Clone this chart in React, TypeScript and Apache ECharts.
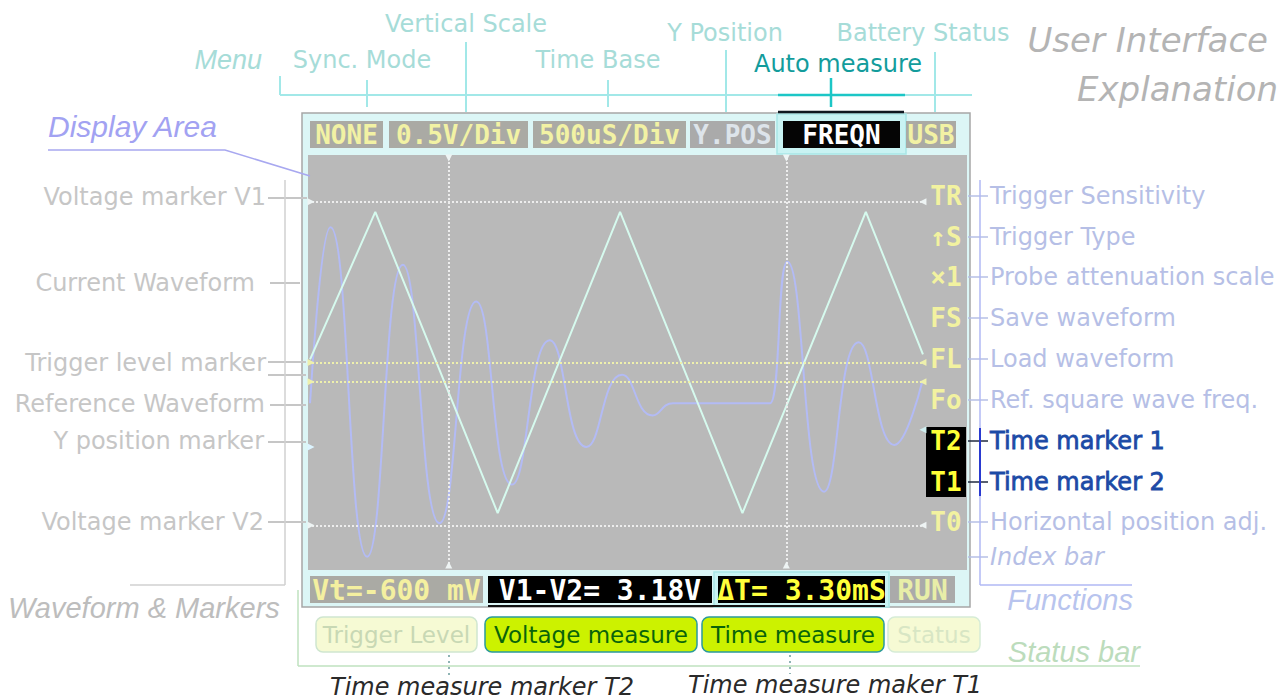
import { useEffect, useRef } from "react";
import * as echarts from "echarts";

// ---------------- data ----------------
// Current waveform (triangle), time in ms and level in volts
const triangleTimeMs = [0.02, 0.66, 1.86, 3.06, 4.26, 5.47, 6.03];
const triangleVolts = [0.86, 2.31, -0.65, 2.31, -0.65, 2.31, 0.91];

// Reference waveform (damped ringing), time in ms and level in volts
const referenceTimeMs = [0.02, 0.22, 0.58, 0.93, 1.29, 1.65, 2.0, 2.37, 2.73, 3.08, 3.38, 3.58, 4.48, 4.53, 4.7, 5.06, 5.4, 5.75, 6.02];
const referenceVolts = [0.43, 2.16, -1.08, 1.79, -0.75, 1.43, -0.37, 1.05, 0.0, 0.71, 0.31, 0.43, 0.43, 0.43, 1.82, -0.44, 1.03, 0.02, 0.63];

// Markers
const timeMarkersMs = [1.38, 4.69]; // T2, T1
const voltageMarkersV = [2.41, -0.77]; // V1, V2
const triggerLevelsV = [0.83, 0.64];
const yPositionV = [0];
const timeMarker2LevelV = 0.17; // right-hand T2 pointer

// Axis ranges of the display area
const timeRangeMs = [0, 6.05];
const voltRange = [-1.19, 2.87];

// Texts
const headerLabels = ["NONE", "0.5V/Div", "500uS/Div", "Y.POS", "FREQN", "USB"];
const statusValues = ["Vt=-600 mV", "V1-V2= 3.18V", "\u0394T= 3.30mS", "RUN"];
const functionKeys = ["TR", "\u2191S", "\u00d71", "FS", "FL", "Fo", "T2", "T1", "T0"];
const functionNames = [
  "Trigger Sensitivity",
  "Trigger Type",
  "Probe attenuation scale",
  "Save waveform",
  "Load waveform",
  "Ref. square wave freq.",
  "Time marker 1",
  "Time marker 2",
  "Horizontal position adj.",
  "Index bar",
];
const leftNames = [
  "Voltage marker V1",
  "Current Waveform",
  "Trigger level marker",
  "Reference Waveform",
  "Y position marker",
  "Voltage marker V2",
];
const topNames = ["Menu", "Sync. Mode", "Vertical Scale", "Time Base", "Y Position", "Auto measure", "Battery Status"];
const statusButtons = ["Trigger Level", "Voltage measure", "Time measure", "Status"];

// ---------------- layout ----------------
const GRID = { left: 308, top: 155, width: 617, height: 413 };
const leftLabelY = [197, 283, 363, 404, 441, 522];
const leftLabelRight = [266, 255, 266, 265, 264, 264];
const rightLabelY = [196, 237, 277, 318, 359, 400, 441, 482, 522, 557];
const headerCells = [
  { x: 310, w: 73, bg: "#aaaaa4", fg: "#f2f2a4" },
  { x: 389, w: 139, bg: "#aaaaa4", fg: "#f2f2a4" },
  { x: 533, w: 153, bg: "#aaaaa4", fg: "#f2f2a4" },
  { x: 690, w: 85, bg: "#aaaaaa", fg: "#dde4ea" },
  { x: 783, w: 117, bg: "#050505", fg: "#ffffff" },
  { x: 906, w: 50, bg: "#aaaaa4", fg: "#f2f2a4" },
];
const statusCells = [
  { x: 310, w: 173, bg: "#aaaaa4", fg: "#f4f0a0" },
  { x: 488, w: 224, bg: "#000000", fg: "#ffffff" },
  { x: 718, w: 167, bg: "#000000", fg: "#ffff3a" },
  { x: 890, w: 65, bg: "#aaaaaa", fg: "#e8eea8" },
];
const buttonCells = [
  { x: 316, w: 161, bg: "#f6fad4", stroke: "#cfe6cf", fg: "#c8d8b4" },
  { x: 485, w: 212, bg: "#ccf200", stroke: "#2a9a9a", fg: "#0a640a" },
  { x: 702, w: 182, bg: "#ccf200", stroke: "#2a9a9a", fg: "#0a640a" },
  { x: 888, w: 92, bg: "#f6fad4", stroke: "#d6ecd6", fg: "#d8e6c4" },
];

const LABEL_FONT = "DejaVu Sans, Verdana, sans-serif";
const ITALIC_FONT = "Liberation Sans, Arial, sans-serif";
const MONO = "DejaVu Sans Mono, Liberation Mono, monospace";

const txt = (text: string, x: number, y: number, fill: string, font: string, align = "left", z = 6, extra: any = {}) => ({
  type: "text",
  x,
  y,
  z,
  silent: true,
  style: { text, fill, font, textAlign: align, textVerticalAlign: "middle", ...extra },
});
const ln = (x1: number, y1: number, x2: number, y2: number, stroke: string, lineWidth = 1.5, z = 4, dash?: number[]) => ({
  type: "line",
  z,
  silent: true,
  shape: { x1, y1, x2, y2 },
  style: { stroke, lineWidth, lineDash: dash },
});
const box = (x: number, y: number, w: number, h: number, fill: string, stroke?: string, r = 0, z = 3, lw = 1.5) => ({
  type: "rect",
  z,
  silent: true,
  shape: { x, y, width: w, height: h, r },
  style: { fill, stroke: stroke || null, lineWidth: stroke ? lw : 0 },
});

function buildGraphic() {
  const g: any[] = [];
  // screen frame
  g.push(box(302, 113, 668, 494, "#dcf6f6", "#a6a6a6", 0, 0, 1.5));
  // display area gray (including function column)
  g.push(box(308, 155, 659, 415, "#b9b9b9", undefined, 0, 1));
  // FREQN highlight
  g.push(box(777, 114, 129, 40, "#c9f3f3", "#a8e6e6", 0, 2, 1.5));
  // delta T highlight
  g.push(box(714, 572, 175, 35, "#c9f3f3", "#a8e6e6", 0, 2, 1.5));

  // header cells
  headerCells.forEach((c, i) => {
    g.push(box(c.x, 121, c.w, 27, c.bg, undefined, 0, 3));
    g.push(txt(headerLabels[i], c.x + c.w / 2, 135, c.fg, `bold 26px ${MONO}`, "center", 6));
  });
  // status cells
  statusCells.forEach((c, i) => {
    g.push(box(c.x, 576, c.w, 27, c.bg, undefined, 0, 3));
    g.push(txt(statusValues[i], c.x + c.w / 2, 590, c.fg, `bold 28px ${MONO}`, "center", 6));
  });
  g.push(ln(488, 606, 885, 606, "#111111", 2, 4));

  // function column
  g.push(box(926, 427, 40, 70, "#000000", undefined, 0, 3));
  functionKeys.forEach((k, i) => {
    const active = k === "T2" || k === "T1";
    g.push(txt(k, 946, rightLabelY[i], active ? "#ffff36" : "#f2f2a0", `bold 26px ${MONO}`, "center", 6));
  });

  // top annotations
  const topColor = "#a6dcd8";
  g.push(txt(topNames[0], 262, 60, topColor, `italic 27px ${ITALIC_FONT}`, "right"));
  g.push(txt(topNames[1], 362, 60, topColor, `24px ${LABEL_FONT}`, "center"));
  g.push(txt(topNames[2], 466, 24, topColor, `24px ${LABEL_FONT}`, "center"));
  g.push(txt(topNames[3], 598, 60, topColor, `24px ${LABEL_FONT}`, "center"));
  g.push(txt(topNames[4], 725, 33, topColor, `24px ${LABEL_FONT}`, "center"));
  g.push(txt(topNames[5], 838, 64, "#139c9c", `24px ${LABEL_FONT}`, "center"));
  g.push(txt(topNames[6], 923, 33, topColor, `24px ${LABEL_FONT}`, "center"));
  const bc = "#a2e8e8";
  g.push(ln(280, 95, 972, 95, bc, 2));
  g.push(ln(280, 76, 280, 95, bc, 2));
  g.push(ln(367, 80, 367, 107, bc, 2));
  g.push(ln(466, 42, 466, 112, bc, 2));
  g.push(ln(608, 80, 608, 107, bc, 2));
  g.push(ln(726, 50, 726, 112, bc, 2));
  g.push(ln(935, 52, 935, 112, bc, 2));
  g.push(ln(778, 95, 905, 95, "#1cc6c6", 2.5, 5));
  g.push(ln(831, 78, 831, 107, "#1cc6c6", 2.5, 5));
  g.push(ln(778, 112, 904, 112, "#101820", 2.5, 5));

  // title
  g.push(txt("User Interface", 1268, 40, "#b4b4b4", `italic 34px ${LABEL_FONT}`, "right"));
  g.push(txt("Explanation", 1278, 89, "#b4b4b4", `italic 34px ${LABEL_FONT}`, "right"));

  // display area label
  g.push(txt("Display Area", 48, 126, "#a2a2f2", `italic 30px ${ITALIC_FONT}`, "left"));
  g.push({
    type: "polyline",
    z: 4,
    silent: true,
    shape: { points: [[48, 150], [225, 150], [310, 176]] },
    style: { stroke: "#a8a8f0", lineWidth: 1.5, fill: null },
  });

  // left annotations
  const lc = "#c6c6c6";
  leftNames.forEach((n, i) => {
    g.push(txt(n, leftLabelRight[i], leftLabelY[i], lc, `24px ${LABEL_FONT}`, "right"));
  });
  g.push(ln(268, 198, 307, 198, lc, 2));
  g.push(ln(270, 283, 300, 283, lc, 2));
  g.push(ln(268, 362, 306, 362, lc, 2));
  g.push(ln(268, 375, 306, 375, lc, 2));
  g.push(ln(270, 405, 306, 405, lc, 2));
  g.push(ln(268, 442, 306, 442, lc, 2));
  g.push(ln(268, 522, 306, 522, lc, 2));
  g.push(ln(285, 180, 285, 585, "#d0d0d0", 1.5));
  g.push(ln(130, 585, 285, 585, "#d0d0d0", 1.5));
  g.push(txt("Waveform & Markers", 8, 608, "#bdbdbd", `italic 29px ${ITALIC_FONT}`, "left"));

  // right annotations
  const rc = "#b6bfe6";
  functionNames.forEach((n, i) => {
    const active = i === 6 || i === 7;
    const italic = i === 9;
    g.push(
      txt(
        n,
        990,
        rightLabelY[i],
        active ? "#1c4aa6" : rc,
        `${italic ? "italic " : ""}24px ${LABEL_FONT}`,
        "left",
        6,
        active ? { stroke: "#1c4aa6", lineWidth: 0.8 } : {}
      )
    );
    g.push(ln(968, rightLabelY[i], 988, rightLabelY[i], active ? "#202a40" : rc, 1.5));
  });
  g.push(ln(980, 180, 980, 585, "#b0b8f4", 1.5));
  g.push(ln(980, 428, 980, 496, "#2a3ad0", 2, 5));
  g.push(ln(980, 585, 1132, 585, "#b0b8f4", 1.5));
  g.push(txt("Functions", 1133, 600, "#b8c4ee", `italic 29px ${ITALIC_FONT}`, "right"));

  // status bar buttons
  buttonCells.forEach((c, i) => {
    g.push(box(c.x, 617, c.w, 35, c.bg, c.stroke, 7, 3, 1.5));
    g.push(txt(statusButtons[i], c.x + c.w / 2, 635, c.fg, `23px ${LABEL_FONT}`, "center"));
  });
  g.push(ln(298, 590, 298, 666, "#bfe2bf", 1.5));
  g.push(ln(298, 666, 1140, 666, "#bfe2bf", 1.5));
  g.push(txt("Status bar", 1140, 652, "#bcdcbc", `italic 29px ${ITALIC_FONT}`, "right"));

  // time measure markers below
  g.push(ln(449, 655, 449, 676, "#8fb4b4", 2, 4, [2, 4]));
  g.push(ln(790, 655, 790, 674, "#8fb4b4", 2, 4, [2, 4]));
  g.push(txt("Time measure marker T2", 330, 687, "#2a2a2a", `italic 24px ${LABEL_FONT}`, "left"));
  g.push(txt("Time measure maker T1", 688, 685, "#2a2a2a", `italic 24px ${LABEL_FONT}`, "left"));
  return g;
}

export default function App() {
  const ref = useRef<HTMLDivElement>(null);
  useEffect(() => {
    if (!ref.current) return;
    const chart = echarts.init(ref.current, undefined, { renderer: "svg" });
    const zip = (xs: number[], ys: number[]) => xs.map((x, i) => [x, ys[i]]);
    const tMin = timeRangeMs[0];
    const tMax = timeRangeMs[1];
    const right = (v: number, color: string) => ({ coord: [tMax - 0.02, v], symbolRotate: 90, itemStyle: { color } });
    const left = (v: number, color: string) => ({ coord: [tMin + 0.03, v], symbolRotate: -90, itemStyle: { color } });
    const white = "#eef4f4";
    const yellow = "#eef0ac";
    const pointers = [
      ...voltageMarkersV.map((v) => left(v, white)),
      ...voltageMarkersV.map((v) => right(v, white)),
      ...triggerLevelsV.map((v) => left(v, yellow)),
      ...triggerLevelsV.map((v) => right(v, yellow)),
      ...yPositionV.map((v) => left(v, "#dcf4ff")),
      right(timeMarker2LevelV, "#cfeef0"),
      ...timeMarkersMs.map((t) => ({ coord: [t, voltRange[1] - 0.03], symbolRotate: 180, itemStyle: { color: white } })),
      ...timeMarkersMs.map((t) => ({ coord: [t, voltRange[0] + 0.03], symbolRotate: 0, itemStyle: { color: white } })),
    ];
    const option: any = {
      animation: false,
      backgroundColor: "#ffffff",
      grid: { ...GRID, containLabel: false },
      xAxis: { type: "value", min: tMin, max: tMax, show: false },
      yAxis: { type: "value", min: voltRange[0], max: voltRange[1], show: false },
      graphic: { elements: buildGraphic() },
      series: [
        {
          name: "Reference Waveform",
          type: "line",
          data: zip(referenceTimeMs, referenceVolts),
          smooth: 0.5,
          symbol: "none",
          lineStyle: { color: "#b3bbf5", width: 2 },
          z: 3,
          silent: true,
        },
        {
          name: "Current Waveform",
          type: "line",
          data: zip(triangleTimeMs, triangleVolts),
          symbol: "none",
          lineStyle: { color: "#d6faee", width: 2 },
          z: 4,
          silent: true,
          markLine: {
            silent: true,
            symbol: ["none", "none"],
            label: { show: false },
            lineStyle: { type: "dotted", width: 2, color: "#ededed" },
            data: [
              ...timeMarkersMs.map((v) => ({ xAxis: v })),
              ...voltageMarkersV.map((v) => ({ yAxis: v })),
              ...triggerLevelsV.map((v) => ({ yAxis: v, lineStyle: { color: yellow, type: "dotted", width: 2 } })),
            ],
          },
          markPoint: {
            silent: true,
            symbol: "triangle",
            symbolSize: 7,
            label: { show: false },
            data: pointers,
          },
        },
      ],
    };
    chart.setOption(option);
    return () => chart.dispose();
  }, []);
  return <div ref={ref} style={{ position: "absolute", left: 0, top: 0, width: 1280, height: 700 }} />;
}
